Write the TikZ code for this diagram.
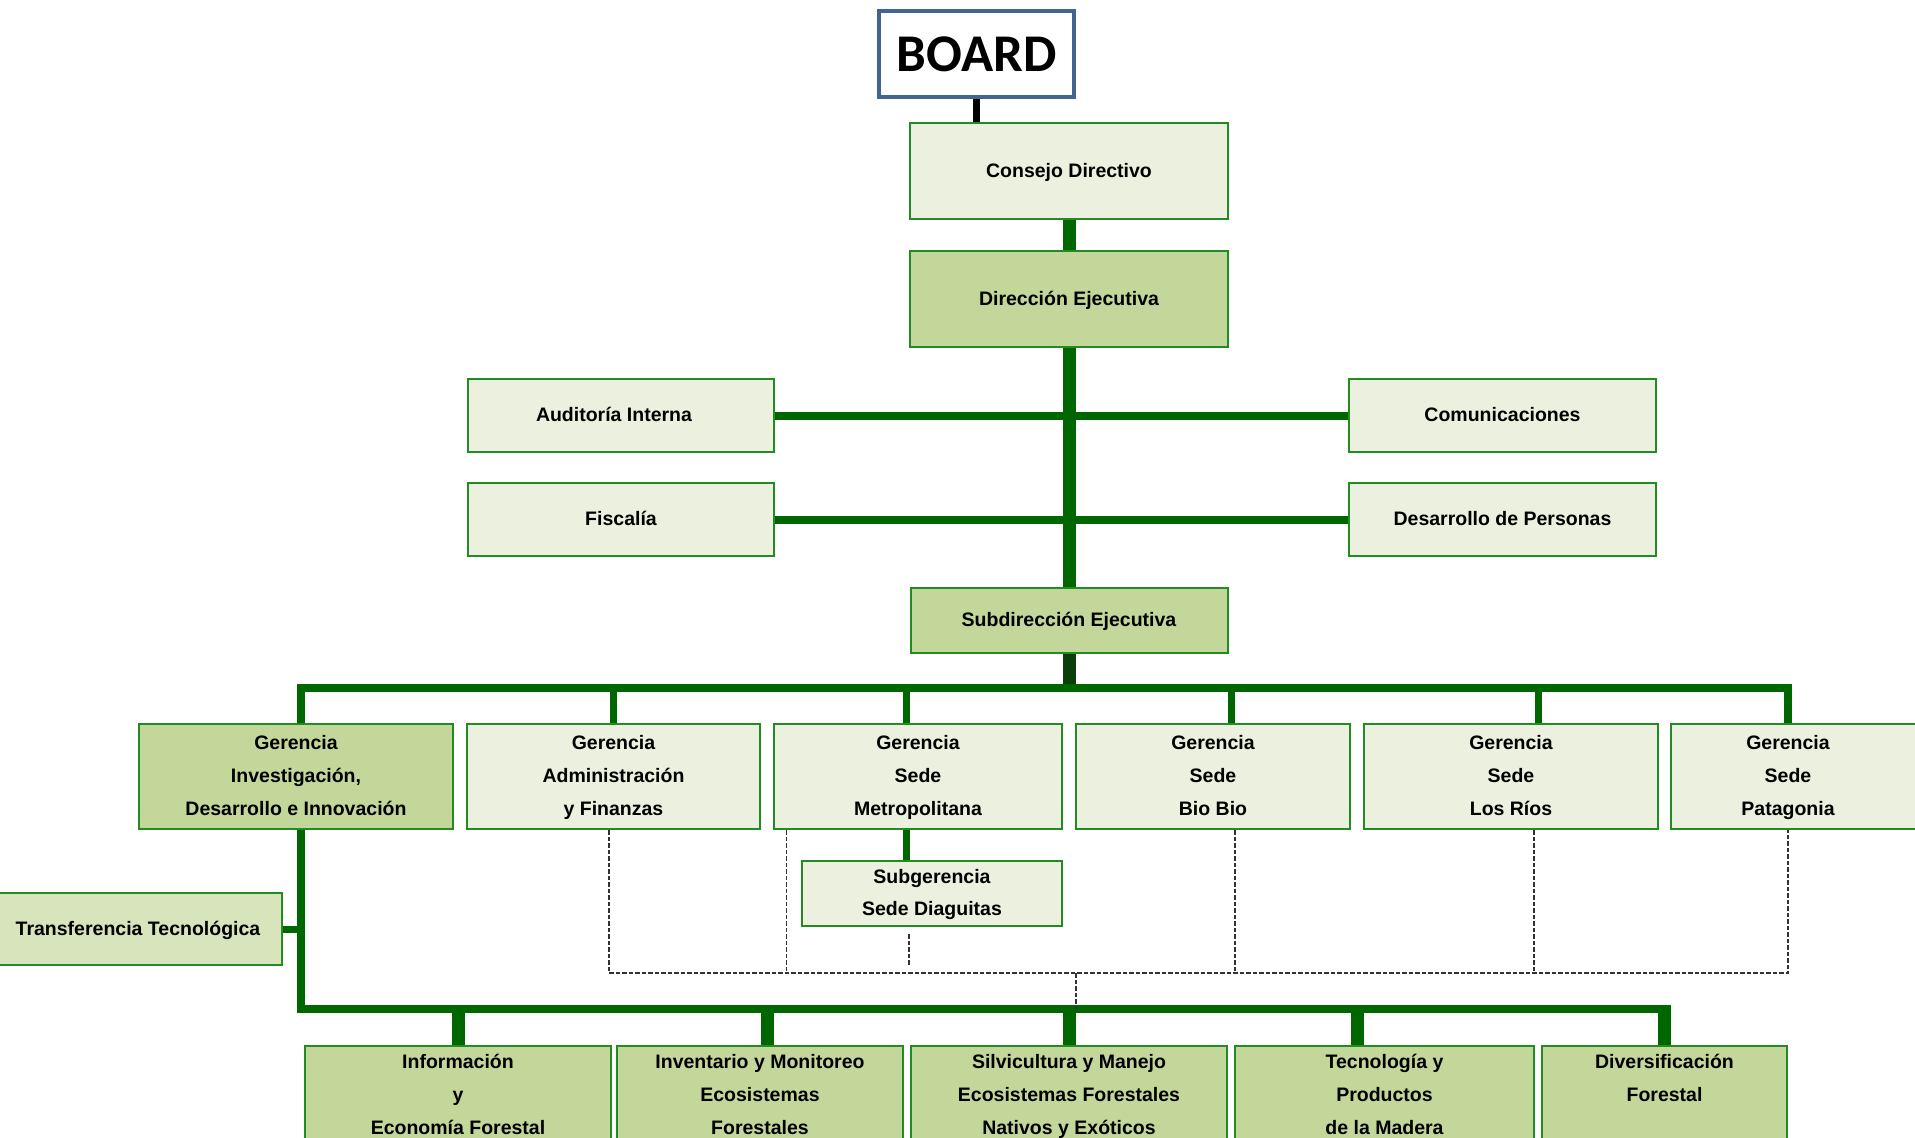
\documentclass[tikz,border=0pt]{standalone}
\usepackage{fontspec}
\setmainfont{Liberation Sans}
\newfontfamily\boardfont{Carlito}
\usetikzlibrary{calc}
\definecolor{lineg}{RGB}{0,102,0}
\definecolor{lined}{RGB}{10,62,10}
\definecolor{boxb}{RGB}{34,139,34}
\definecolor{fillL}{RGB}{235,241,222}
\definecolor{fillD}{RGB}{196,215,155}
\definecolor{fillM}{RGB}{216,228,188}
\definecolor{boardb}{RGB}{65,100,145}
\definecolor{dashc}{RGB}{50,50,50}
\newcommand\sk{\rule[-8pt]{0pt}{28pt}}
\pgfdeclarelayer{bg}
\pgfdeclarelayer{paper}
\pgfsetlayers{paper,bg,main}
\tikzset{
  box/.style={rectangle, draw=boxb, line width=2pt, inner sep=0pt, align=center,
    font=\fontsize{19.5}{33}\selectfont\bfseries, text=black},
  lbox/.style={box, fill=fillL},
  dbox/.style={box, fill=fillD},
  mbox/.style={box, fill=fillM},
  plaintext/.style={inner sep=0pt, align=center, font=\fontsize{19.5}{33}\selectfont\bfseries, text=black},
  trunk/.style={draw=lineg, line width=13pt},
  busln/.style={draw=lineg, line width=8pt, line join=miter},
  dropln/.style={draw=lineg, line width=7pt},
  dashln/.style={draw=dashc, line width=1.5pt, dash pattern=on 4.5pt off 2pt},
}
\begin{document}
\begin{tikzpicture}[x=1pt,y=-1pt]
\useasboundingbox (0,0) rectangle (1915,1138);
\clip (0,0) rectangle (1915,1138);
\begin{pgfonlayer}{paper}
  \fill[white] (0,0) rectangle (1915,1138);
\end{pgfonlayer}

% top
\node[draw=boardb, line width=4.5pt, fill=white, minimum width=195pt, minimum height=86pt, inner sep=0pt,
      font=\boardfont\bfseries\fontsize{53}{60}\selectfont] (board) at (976.5,54) {BOARD};
\node[lbox, minimum width=318pt, minimum height=96pt] (cons) at (1069,171) {\sk Consejo Directivo};
\node[dbox, minimum width=318pt, minimum height=96pt] (dir) at (1069,299) {\sk Dirección Ejecutiva};
\node[lbox, minimum width=306pt, minimum height=73pt] (aud) at (621,415.5) {\sk Auditoría Interna\hspace*{14pt}};
\node[lbox, minimum width=307pt, minimum height=73pt] (com) at (1502.5,415.5) {\sk Comunicaciones};
\node[lbox, minimum width=306pt, minimum height=73pt] (fis) at (621,519.5) {\sk Fiscalía};
\node[lbox, minimum width=307pt, minimum height=73pt] (des) at (1502.5,519.5) {\sk Desarrollo de Personas};
\node[dbox, minimum width=317pt, minimum height=65pt] (sub) at (1069,620.5) {\sk Subdirección Ejecutiva};

% gerencias
\node[dbox, minimum width=314.5pt, minimum height=105pt] (id) at (296,776.5) {\sk Gerencia\\\sk Investigación,\\\sk Desarrollo e Innovación};
\node[lbox, minimum width=293pt, minimum height=105pt] (adm) at (613.5,776.5) {\sk Gerencia\\\sk Administración\\\sk y Finanzas};
\node[lbox, minimum width=288pt, minimum height=105pt] (met) at (918,776.5) {\sk Gerencia\\\sk Sede\\\sk Metropolitana};
\node[lbox, minimum width=274pt, minimum height=105pt] (bio) at (1213,776.5) {\sk Gerencia\\\sk Sede\\\sk Bio Bio};
\node[lbox, minimum width=294pt, minimum height=105pt] (rios) at (1511,776.5) {\sk Gerencia\\\sk Sede\\\sk Los Ríos};
\node[lbox, minimum width=264pt, minimum height=105pt] (patbox) at (1803,776.5) {};
\node[plaintext] (pattext) at (1788,776.5) {\sk Gerencia\\\sk Sede\\\sk Patagonia};
\node[lbox, minimum width=260.5pt, minimum height=65pt, font=\fontsize{19.5}{32}\selectfont\bfseries] (subg) at (932,893.5) {\sk Subgerencia\\\sk Sede Diaguitas};
\node[mbox, minimum width=288pt, minimum height=72pt] (tt) at (138,929) {\sk Transferencia Tecnológica};

% bottom
\node[dbox, minimum width=305.5pt, minimum height=98pt] (b1) at (458,1095) {\sk Información\\\sk y\\\sk Economía Forestal};
\node[dbox, minimum width=285.6pt, minimum height=98pt] (b2) at (760,1095) {\sk Inventario y Monitoreo\\\sk Ecosistemas\\\sk Forestales};
\node[dbox, minimum width=316.4pt, minimum height=98pt] (b3) at (1069,1095) {\sk Silvicultura y Manejo\\\sk Ecosistemas Forestales\\\sk Nativos y Exóticos};
\node[dbox, minimum width=299pt, minimum height=98pt] (b4) at (1384.5,1095) {\sk Tecnología y\\\sk Productos\\\sk de la Madera};
\node[dbox, minimum width=245pt, minimum height=98pt] (b5) at (1664.5,1095) {\sk Diversificación\\\sk Forestal\\\sk};

\coordinate (busT) at (0,688);
\coordinate (busB) at (0,1009);
\coordinate (dashY) at (0,973);

\begin{pgfonlayer}{bg}
  \draw[line width=7pt, black] (board.south) -- (board.south |- cons.north);
  \draw[trunk] (cons.south) -- (dir.north);
  \draw[trunk] (dir.south) -- (sub.north);
  \draw[busln] (aud.east) -- (com.west);
  \draw[busln] (fis.east) -- (des.west);
  \draw[trunk, draw=lined] (sub.south) -- (sub.south |- busT);
  % top bus
  \coordinate (idx) at ([xshift=5pt]id.north);
  \draw[busln] (idx) -- (idx |- busT) -- (pattext |- busT) -- (pattext |- patbox.north);
  \draw[dropln] (adm.north) -- (adm.north |- busT);
  \coordinate (mx) at ([xshift=-12pt]met.north);
  \draw[dropln] (mx) -- (mx |- busT);
  \coordinate (bx) at ([xshift=18pt]bio.north);
  \draw[dropln] (bx) -- (bx |- busT);
  \coordinate (rx) at ([xshift=27pt]rios.north);
  \draw[dropln] (rx) -- (rx |- busT);
  % subgerencia
  \draw[dropln] (mx |- met.south) -- (mx |- subg.north);
  % I+D down to bottom bus
  \draw[busln] (idx |- id.south) -- (idx |- busB) -- (b5.north |- busB);
  \draw[dropln] (tt.east) -- (idx |- tt.east);
  \draw[trunk] (b1.north) -- (b1.north |- busB);
  \coordinate (b2x) at ([xshift=7pt]b2.north);
  \draw[trunk] (b2x) -- (b2x |- busB);
  \draw[trunk] (b3.north) -- (b3.north |- busB);
  \coordinate (b4x) at ([xshift=-27.5pt]b4.north);
  \draw[trunk] (b4x) -- (b4x |- busB);
  \draw[trunk] (b5.north) -- ([yshift=4pt]b5.north |- busB);
  % dashed
  \coordinate (dA) at ([xshift=-4.5pt]adm.south);
  \draw[dashln] (dA) -- (dA |- dashY) -- (pattext |- dashY) -- (pattext |- patbox.south);
  \coordinate (dM) at ([xshift=13.6pt]met.south west);
  \draw[dashln] (dM) -- (dM |- dashY);
  \coordinate (dB) at ([xshift=22pt]bio.south);
  \draw[dashln] (dB) -- (dB |- dashY);
  \coordinate (dR) at ([xshift=23pt]rios.south);
  \draw[dashln] (dR) -- (dR |- dashY);
  \coordinate (dS) at ([xshift=-23pt]subg.south);
  \draw[dashln] ([yshift=-7pt]dS) -- ([yshift=8pt]dS |- dashY);
  \coordinate (dC) at ([xshift=7pt]b3.north);
  \draw[dashln] (dC |- dashY) -- (dC |- busB);
\end{pgfonlayer}
\end{tikzpicture}
\end{document}
